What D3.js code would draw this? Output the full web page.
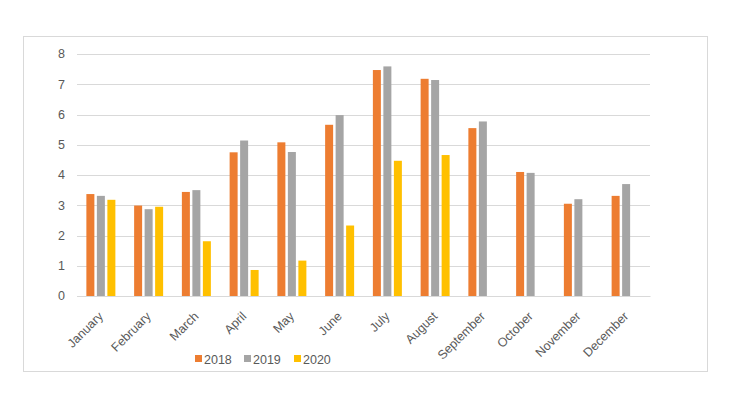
<!DOCTYPE html>
<html>
<head>
<meta charset="utf-8">
<script src="https://cdn.jsdelivr.net/npm/d3@7"></script>
<style>
  body { margin: 0; background: #fff; }
  text { font-family: "Liberation Sans", Arial, sans-serif; fill: #595959; }
</style>
</head>
<body>
<div id="chart"></div>
<script>
const months = ["January", "February", "March", "April", "May", "June",
    "July", "August", "September", "October", "November", "December"];
const years = ["2018", "2019", "2020"];
const v2018 = [3.37, 2.99, 3.44, 4.75, 5.08, 5.66, 7.47, 7.18, 5.55, 4.10, 3.05, 3.31];
const v2019 = [3.31, 2.87, 3.50, 5.14, 4.76, 5.98, 7.59, 7.14, 5.77, 4.07, 3.20, 3.70];
const v2020 = [3.18, 2.95, 1.81, 0.86, 1.17, 2.33, 4.47, 4.66, null, null, null, null];
const yTicks = [0, 1, 2, 3, 4, 5, 6, 7, 8];

const width = 730;
const height = 410;
const margin = { top: 54, right: 80, bottom: 114, left: 77 };

const svg = d3.select("#chart")
    .append("svg")
    .attr("width", width)
    .attr("height", height);

// outer chart border
svg.append("rect")
    .attr("x", 23.5)
    .attr("y", 36.5)
    .attr("width", 684)
    .attr("height", 335)
    .attr("fill", "none")
    .attr("stroke", "#d9d9d9");

const series = [
    { key: "2018", values: v2018 },
    { key: "2019", values: v2019 },
    { key: "2020", values: v2020 }
];

const color = d3.scaleOrdinal()
    .domain(years)
    .range(["#ED7D31", "#A5A5A5", "#FFC000"]);

const x = d3.scaleBand()
    .domain(months)
    .range([margin.left, width - margin.right])
    .paddingInner(0)
    .paddingOuter(0);

const y = d3.scaleLinear()
    .domain([0, 8])
    .range([height - margin.bottom, margin.top]);

// bars: 3 bars of 8px with 2.5px gaps, centered in band
const barW = 8;
const step = 10.5;
const xSub = d3.scaleBand().domain(years).range([0, step * 3]);

// gridlines
svg.append("g")
    .selectAll("line")
    .data(yTicks)
    .join("line")
    .attr("x1", margin.left)
    .attr("x2", width - margin.right)
    .attr("y1", d => Math.round(y(d)) + 0.5)
    .attr("y2", d => Math.round(y(d)) + 0.5)
    .attr("stroke", "#d9d9d9")
    .attr("stroke-width", 1);

svg.append("g")
    .selectAll("g")
    .data(series)
    .join("g")
    .attr("fill", d => color(d.key))
    .selectAll("rect")
    .data(d => d.values.map((v, i) => ({ key: d.key, month: months[i], value: v })).filter(d => d.value != null))
    .join("rect")
    .attr("x", d => x(d.month) + x.bandwidth() / 2 - (step * 3 - (step - barW)) / 2 + xSub(d.key))
    .attr("y", d => y(d.value))
    .attr("width", barW)
    .attr("height", d => y(0) - y(d.value));

// y axis labels
svg.append("g")
    .selectAll("text")
    .data(yTicks)
    .join("text")
    .attr("x", 65)
    .attr("y", d => y(d))
    .attr("dy", "0.35em")
    .attr("text-anchor", "end")
    .style("font-size", "12.5px")
    .text(d => d);

// x axis
const xAxis = svg.append("g")
    .attr("transform", `translate(0,${y(0)})`)
    .call(d3.axisBottom(x).tickSize(0));

xAxis.select(".domain").attr("stroke", "#d9d9d9");

xAxis.selectAll("text")
    .style("font-size", "12.5px")
    .style("fill", "#595959")
    .attr("font-family", null)
    .attr("text-anchor", "end")
    .attr("dy", null)
    .attr("y", 0)
    .attr("transform", "translate(3,21) rotate(-45)");

// legend
const legendX = [195, 244, 294];
const legend = svg.append("g")
    .selectAll("g")
    .data(years)
    .join("g")
    .attr("transform", (d, i) => `translate(${legendX[i]},355)`);

legend.append("rect")
    .attr("width", 7)
    .attr("height", 7)
    .attr("fill", d => color(d));

legend.append("text")
    .attr("x", 9)
    .attr("y", 8.5)
    .style("font-size", "12.5px")
    .text(d => d);
</script>
</body>
</html>
